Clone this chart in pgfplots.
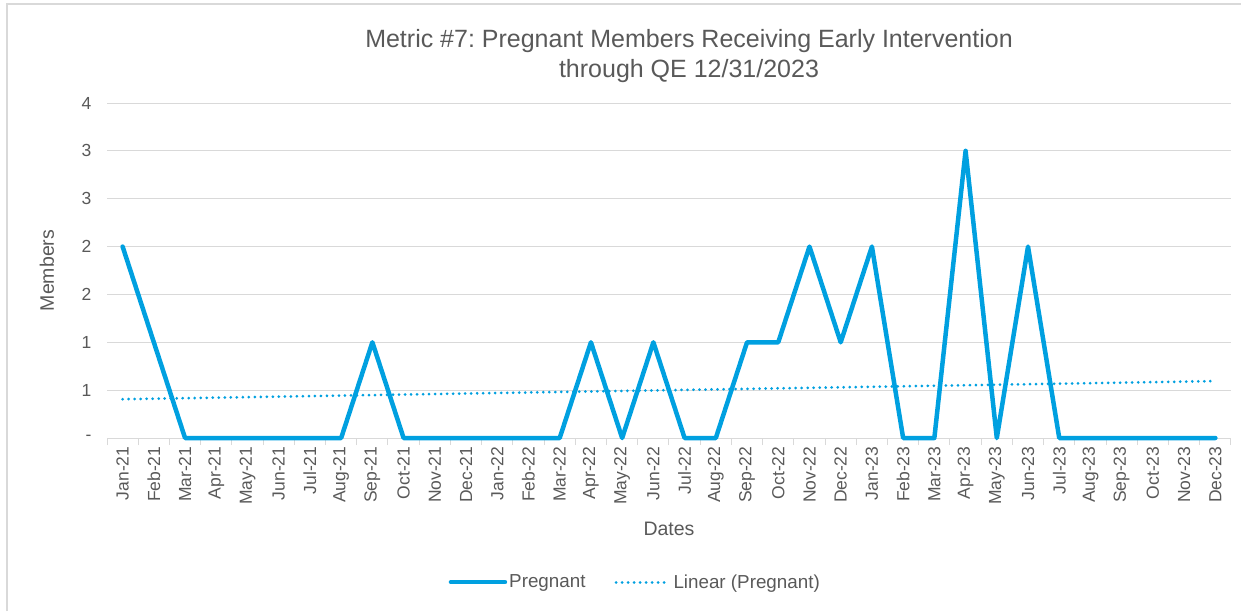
\documentclass[border=0pt]{standalone}
\usepackage{fontspec}
\setmainfont{Liberation Sans}
\usepackage{pgfplots}
\pgfplotsset{compat=1.18}
\definecolor{lineblue}{HTML}{00A0E0}
\definecolor{txtgray}{HTML}{595959}
\definecolor{gridgray}{HTML}{D9D9D9}
\frenchspacing
\begin{document}
\begin{tikzpicture}[x=1pt,y=1pt]
\useasboundingbox (0,0) rectangle (1241,-611);
\draw[gridgray, line width=1.5pt] (7,-611) -- (7,-4) -- (1241,-4);
\begin{axis}[
  at={(107pt,-438pt)}, anchor=south west,
  width=1124pt, height=335pt, scale only axis,
  xmin=-0.5, xmax=35.5, ymin=0, ymax=3.5,
  clip=false,
  axis x line*=bottom, axis y line*=left,
  y axis line style={draw=none},
  x axis line style={gridgray, line width=1pt},
  xtick={0,...,35},
  xticklabels={Jan-21,Feb-21,Mar-21,Apr-21,May-21,Jun-21,Jul-21,Aug-21,Sep-21,Oct-21,Nov-21,Dec-21,Jan-22,Feb-22,Mar-22,Apr-22,May-22,Jun-22,Jul-22,Aug-22,Sep-22,Oct-22,Nov-22,Dec-22,Jan-23,Feb-23,Mar-23,Apr-23,May-23,Jun-23,Jul-23,Aug-23,Sep-23,Oct-23,Nov-23,Dec-23},
  minor xtick={-0.5,0.5,...,35.5},
  major x tick style={draw=none},
  minor x tick style={gridgray, line width=1pt},
  minor tick length=7pt, major tick length=0pt, tick align=outside,
  ytick={0,0.5,...,3.5}, yticklabels={-,1,1,2,2,3,3,4},
  major y tick style={draw=none},
  ymajorgrids, grid style={gridgray, line width=1pt},
  tick label style={font=\fontsize{17.5}{20}\selectfont, text=txtgray},
  xticklabel style={rotate=90, anchor=east, xshift=-5pt},
  yticklabel style={xshift=-12pt},
  xlabel={Dates}, ylabel={Members},
  label style={font=\fontsize{19.5}{22}\selectfont, text=txtgray},
  xlabel style={at={(axis description cs:0.5,-0.272)}, anchor=center},
  ylabel style={at={(axis description cs:-0.0534,0.5)}, anchor=center},
  legend columns=2,
  legend style={at={(0.47,-0.43)}, anchor=center, draw=none, fill=none,
    font=\fontsize{18.8}{21}\selectfont, text=txtgray,
    /tikz/every even column/.append style={column sep=27pt}},
  legend image code/.code={\draw[#1] (0pt,0pt) -- (54pt,0pt);},
]
\addplot[lineblue, line width=4.5pt, line join=round, line cap=round] coordinates {
(0,2)(1,1)(2,0)(3,0)(4,0)(5,0)(6,0)(7,0)(8,1)(9,0)(10,0)(11,0)
(12,0)(13,0)(14,0)(15,1)(16,0)(17,1)(18,0)(19,0)(20,1)(21,1)(22,2)(23,1)
(24,2)(25,0)(26,0)(27,3)(28,0)(29,2)(30,0)(31,0)(32,0)(33,0)(34,0)(35,0)};
\addlegendentry{Pregnant}
\addplot[lineblue, line width=3pt, line cap=round, dash pattern=on 0.01pt off 6pt] coordinates {(0,0.4054)(35,0.5946)};
\addlegendentry{Linear (Pregnant)}
\end{axis}
\node[anchor=base, font=\fontsize{25}{30}\selectfont, text=txtgray] at (689,-47) {Metric \#7: Pregnant Members Receiving Early Intervention};
\node[anchor=base, font=\fontsize{25}{30}\selectfont, text=txtgray] at (689,-77) {through QE 12/31/2023};
\end{tikzpicture}
\end{document}
